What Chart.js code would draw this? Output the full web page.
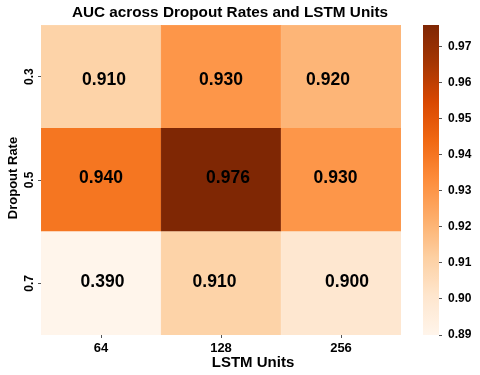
<!DOCTYPE html>
<html><head><meta charset="utf-8">
<script src="https://cdn.jsdelivr.net/npm/chart.js@4"></script>
<style>
html,body{margin:0;padding:0;background:#fff;}
#wrap{position:relative;width:480px;height:375px;background:#fff;}
#main{position:absolute;left:0;top:0;}
#cbar{position:absolute;left:400px;top:0;}
</style></head><body>
<div id="wrap"><canvas id="main" width="460" height="375"></canvas><canvas id="cbar" width="80" height="375"></canvas></div>
<script>
const lstmUnits = ['64', '128', '256'];
const dropoutRates = ['0.3', '0.5', '0.7'];
const aucDrop03 = [0.910, 0.930, 0.920];
const aucDrop05 = [0.940, 0.976, 0.930];
const aucDrop07 = [0.390, 0.910, 0.900];
const colorMin = 0.89;
const colorMax = 0.976;
const colorbarTicks = [0.89, 0.90, 0.91, 0.92, 0.93, 0.94, 0.95, 0.96, 0.97];
const chartTitle = 'AUC across Dropout Rates and LSTM Units';
const xTitle = 'LSTM Units';
const yTitle = 'Dropout Rate';

// style: small nudges (px) of the value labels, rows bottom->top, matching the reference placement
const labelNudge = [
  [[1.5, -1.5], [-6.5, -1.5], [6, -1.5]],
  [[0, -2], [7, -2], [-5.5, -2]],
  [[3, 3.5], [0, 3.5], [-13, 3.5]]
];

const FONT = '"Liberation Sans", Arial, sans-serif';
const oranges = ['#fff5eb','#fee6ce','#fdd0a2','#fdae6b','#fd8d3c','#f16913','#d94801','#a63603','#7f2704'];
function hex(c){return [parseInt(c.slice(1,3),16),parseInt(c.slice(3,5),16),parseInt(c.slice(5,7),16)];}
function cmap(t){
  t = Math.max(0, Math.min(1, t));
  const p = t * (oranges.length - 1);
  const i = Math.min(Math.floor(p), oranges.length - 2);
  const f = p - i;
  const a = hex(oranges[i]), b = hex(oranges[i+1]);
  const r = a.map((v,k)=>Math.round(v + (b[k]-v)*f));
  return 'rgb(' + r.join(',') + ')';
}
function colorFor(v){ return cmap((v - colorMin) / (colorMax - colorMin)); }

// rows from bottom to top for stacking
const rows = [aucDrop07, aucDrop05, aucDrop03];
const rowLabels = [dropoutRates[2], dropoutRates[1], dropoutRates[0]];

const cellLabels = {
  id: 'cellLabels',
  afterDatasetsDraw(chart) {
    const ctx = chart.ctx;
    ctx.save();
    ctx.font = 'bold 17.5px ' + FONT;
    ctx.fillStyle = '#000';
    ctx.textAlign = 'center';
    ctx.textBaseline = 'middle';
    chart.data.datasets.forEach((ds, di) => {
      chart.getDatasetMeta(di).data.forEach((bar, i) => {
        const p = bar.getProps(['x', 'y', 'base'], true);
        const n = labelNudge[di][i];
        ctx.fillText(ds.auc[i].toFixed(3), p.x + n[0], (p.y + p.base) / 2 + n[1]);
      });
    });
    ctx.restore();
  }
};

const titles = {
  id: 'titles',
  afterDraw(chart) {
    const ctx = chart.ctx;
    const ca = chart.chartArea;
    ctx.save();
    ctx.fillStyle = '#000';
    ctx.textAlign = 'center';
    ctx.textBaseline = 'middle';
    ctx.font = 'bold 15.3px ' + FONT;
    ctx.fillText(chartTitle, 230, 13);
    ctx.font = 'bold 15px ' + FONT;
    ctx.fillText(xTitle, (ca.left + ca.right) / 2 + 32, 363);
    ctx.translate(13, (ca.top + ca.bottom) / 2 - 2);
    ctx.rotate(-Math.PI / 2);
    ctx.font = 'bold 13px ' + FONT;
    ctx.fillText(yTitle, 0, 0);
    ctx.restore();
  }
};

new Chart(document.getElementById('main'), {
  type: 'bar',
  data: {
    labels: lstmUnits,
    datasets: rows.map((r, k) => ({
      label: rowLabels[k],
      auc: r,
      data: r.map(() => 1),
      backgroundColor: r.map(colorFor),
      borderColor: r.map(colorFor),
      borderWidth: 0.5,
      barPercentage: 1,
      categoryPercentage: 1
    }))
  },
  options: {
    responsive: false,
    animation: false,
    layout: { padding: { left: 0, right: 59, top: 25, bottom: 0 } },
    plugins: {
      legend: { display: false },
      tooltip: { enabled: false },
      title: { display: false }
    },
    scales: {
      x: {
        stacked: true,
        grid: { display: true, offset: false, drawOnChartArea: false, tickLength: 3, color: '#555' },
        border: { display: false },
        ticks: { color: '#000', font: { family: FONT, size: 13, weight: 'bold' }, padding: 3, maxRotation: 0 },
        afterFit(s) { s.height = 40; }
      },
      y: {
        stacked: true,
        min: 0,
        max: 3,
        afterBuildTicks(s) { s.ticks = [0.5, 1.5, 2.5].map(v => ({ value: v })); },
        grid: { display: true, drawOnChartArea: false, tickLength: 3, color: '#555' },
        border: { display: false },
        ticks: {
          color: '#000',
          font: { family: FONT, size: 12, weight: 'bold' },
          minRotation: 90, maxRotation: 90,
          crossAlign: 'center',
          padding: 0,
          callback: (v, i) => rowLabels[i]
        },
        afterFit(s) { s.width = 41; }
      }
    }
  },
  plugins: [cellLabels, titles]
});

new Chart(document.getElementById('cbar'), {
  type: 'bar',
  data: {
    labels: [''],
    datasets: [{
      data: [[colorMin, colorMax]],
      backgroundColor: (c) => {
        const ca = c.chart.chartArea;
        if (!ca) return '#fff';
        const g = c.chart.ctx.createLinearGradient(0, ca.bottom, 0, ca.top);
        const n = 40;
        for (let i = 0; i <= n; i++) g.addColorStop(i / n, cmap(i / n));
        return g;
      },
      borderWidth: 0,
      barPercentage: 1,
      categoryPercentage: 1
    }]
  },
  options: {
    responsive: false,
    animation: false,
    layout: { padding: { left: 23, right: 0, top: 25, bottom: 40 } },
    plugins: { legend: { display: false }, tooltip: { enabled: false } },
    scales: {
      x: { display: false },
      y: {
        position: 'right',
        min: colorMin,
        max: colorMax,
        afterBuildTicks(s) { s.ticks = colorbarTicks.map(v => ({ value: v })); },
        grid: { display: true, drawOnChartArea: false, tickLength: 3, color: '#555' },
        border: { display: false },
        ticks: { color: '#000', font: { family: FONT, size: 12, weight: 'bold' }, padding: 6, callback: v => Number(v).toFixed(2) },
        afterFit(s) { s.width = 41; }
      }
    }
  }
});
</script>
</body></html>
